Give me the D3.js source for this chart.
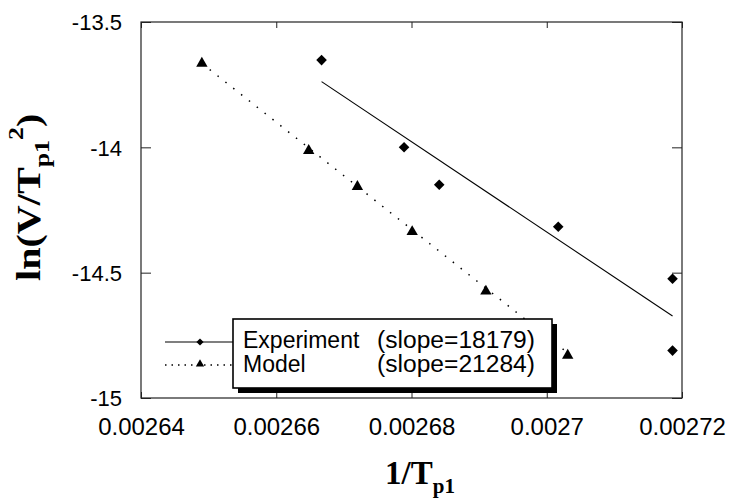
<!DOCTYPE html>
<html lang="en">
  <head>
    <meta charset="utf-8">
    <style>
      body { margin: 0; background: #fff; }
      .tick text { font-family: "Liberation Sans", Arial, sans-serif; font-size: 22px; fill: #000; }
      .tick line { stroke: #222; }
      .title { font-family: "Liberation Serif", "Times New Roman", serif; font-weight: bold; }
      .legend text { font-family: "Liberation Sans", Arial, sans-serif; font-size: 23px; }
    </style>
  </head>
  <body>
    <script src="https://d3js.org/d3.v7.min.js"></script>
    <svg width="730" height="499"></svg>
    <script>
      // data
      var expX = [0.0026667, 0.0026789, 0.0026841, 0.0027017, 0.0027186, 0.0027186];
      var expY = [-13.652, -14.0, -14.149, -14.317, -14.524, -14.811];
      var modelX = [0.002649, 0.0026648, 0.002672, 0.0026801, 0.002691, 0.0027031];
      var modelY = [-13.665, -14.013, -14.157, -14.337, -14.574, -14.83];
      // fitted lines (end points)
      var expFitX = [0.0026667, 0.0027186];
      var expFitY = [-13.738, -14.673];
      var modelFitX = [0.002649, 0.0027031];
      var modelFitY = [-13.665, -14.82];
      // ticks
      var xTicks = [0.00264, 0.00266, 0.00268, 0.0027, 0.00272];
      var xTickLabels = ["0.00264", "0.00266", "0.00268", "0.0027", "0.00272"];
      var yTicks = [-15, -14.5, -14, -13.5];
      var yTickLabels = ["-15", "-14.5", "-14", "-13.5"];
      var legendNames = ["Experiment", "Model"];
      var legendSlopes = ["(slope=18179)", "(slope=21284)"];

      var svg = d3.select("svg");
      var mLeft = 141, mRight = 682, mTop = 22, mBottom = 398;

      var x = d3.scaleLinear().domain([0.00264, 0.00272]).range([mLeft, mRight]);
      var y = d3.scaleLinear().domain([-15, -13.5]).range([mBottom, mTop]);

      // frame
      svg.append("rect")
        .attr("x", mLeft).attr("y", mTop)
        .attr("width", mRight - mLeft).attr("height", mBottom - mTop)
        .attr("fill", "none").attr("stroke", "#222").attr("stroke-width", 1.2);

      // axes, ticks pointing inward
      var gx = svg.append("g").attr("transform", "translate(0," + mBottom + ")")
        .call(d3.axisBottom(x).tickValues(xTicks).tickSizeInner(-6).tickSizeOuter(0).tickPadding(20)
          .tickFormat(function (d, i) { return xTickLabels[i]; }));
      var gy = svg.append("g").attr("transform", "translate(" + mLeft + ",0)")
        .call(d3.axisLeft(y).tickValues(yTicks).tickSizeInner(-10).tickSizeOuter(0).tickPadding(19)
          .tickFormat(function (d, i) { return yTickLabels[i]; }));
      var gt = svg.append("g").attr("transform", "translate(0," + mTop + ")")
        .call(d3.axisTop(x).tickValues(xTicks).tickSizeInner(-6).tickSizeOuter(0).tickFormat(""));
      var gr = svg.append("g").attr("transform", "translate(" + mRight + ",0)")
        .call(d3.axisRight(y).tickValues(yTicks).tickSizeInner(-10).tickSizeOuter(0).tickFormat(""));
      [gx, gy, gt, gr].forEach(function (g) {
        g.select(".domain").remove();
        g.attr("font-family", null).attr("font-size", null);
      });
      gx.selectAll(".tick text").style("font-size", "24px");
      gy.selectAll(".tick text").attr("dy", "0.36em");

      // fitted lines
      var line = d3.line().x(function (d) { return x(d[0]); }).y(function (d) { return y(d[1]); });
      svg.append("path")
        .datum(d3.zip(expFitX, expFitY))
        .attr("d", line).attr("fill", "none").attr("stroke", "#000").attr("stroke-width", 1.1);
      svg.append("path")
        .datum(d3.zip(modelFitX, modelFitY))
        .attr("d", line).attr("fill", "none").attr("stroke", "#000").attr("stroke-width", 1.5)
        .attr("stroke-dasharray", "1.5,8.5");

      // points
      var diamond = d3.symbol().type(d3.symbolSquare).size(56);
      var triangle = d3.symbol().type(d3.symbolTriangle).size(56);
      svg.selectAll(".exp")
        .data(d3.zip(expX, expY))
        .enter().append("path")
        .attr("class", "exp")
        .attr("d", diamond)
        .attr("transform", function (d) { return "translate(" + x(d[0]) + "," + y(d[1]) + ") rotate(45)"; });
      svg.selectAll(".model")
        .data(d3.zip(modelX, modelY))
        .enter().append("path")
        .attr("class", "model")
        .attr("d", triangle)
        .attr("transform", function (d) { return "translate(" + x(d[0]) + "," + y(d[1]) + ")"; });

      // legend
      var lg = svg.append("g").attr("class", "legend");
      lg.append("line").attr("x1", 165).attr("x2", 233).attr("y1", 342).attr("y2", 342)
        .attr("stroke", "#000").attr("stroke-width", 1.1);
      lg.append("line").attr("x1", 165).attr("x2", 233).attr("y1", 365).attr("y2", 365)
        .attr("stroke", "#000").attr("stroke-width", 1.3).attr("stroke-dasharray", "1.5,5");
      lg.append("path").attr("d", d3.symbol().type(d3.symbolSquare).size(26))
        .attr("transform", "translate(200,342) rotate(45)");
      lg.append("path").attr("d", d3.symbol().type(d3.symbolTriangle).size(30))
        .attr("transform", "translate(200,364)");
      lg.append("rect").attr("x", 238).attr("y", 324).attr("width", 319).attr("height", 69).attr("fill", "#000");
      lg.append("rect").attr("x", 233).attr("y", 319).attr("width", 319).attr("height", 69)
        .attr("fill", "#fff").attr("stroke", "#000").attr("stroke-width", 1.6);
      legendNames.forEach(function (name, i) {
        lg.append("text").attr("x", 243).attr("y", 348 + i * 24).text(name);
        lg.append("text").attr("x", 377).attr("y", 348 + i * 24)
          .attr("textLength", 158).attr("lengthAdjust", "spacingAndGlyphs").text(legendSlopes[i]);
      });

      // axis titles
      var xt = svg.append("text").attr("class", "title")
        .attr("x", 420).attr("y", 484).attr("text-anchor", "middle").attr("font-size", 33);
      xt.append("tspan").text("1/T");
      xt.append("tspan").attr("dy", 9).attr("font-size", 21).text("p1");

      var yt = svg.append("text").attr("class", "title")
        .attr("transform", "translate(40,281) rotate(-90) scale(1.18,1)").attr("font-size", 34);
      yt.append("tspan").text("ln(V/T");
      yt.append("tspan").attr("dy", 9).attr("font-size", 22).text("p1");
      yt.append("tspan").attr("dy", -26).attr("font-size", 22).text("2");
      yt.append("tspan").attr("dy", 17).text(")");
    </script>
  </body>
</html>
